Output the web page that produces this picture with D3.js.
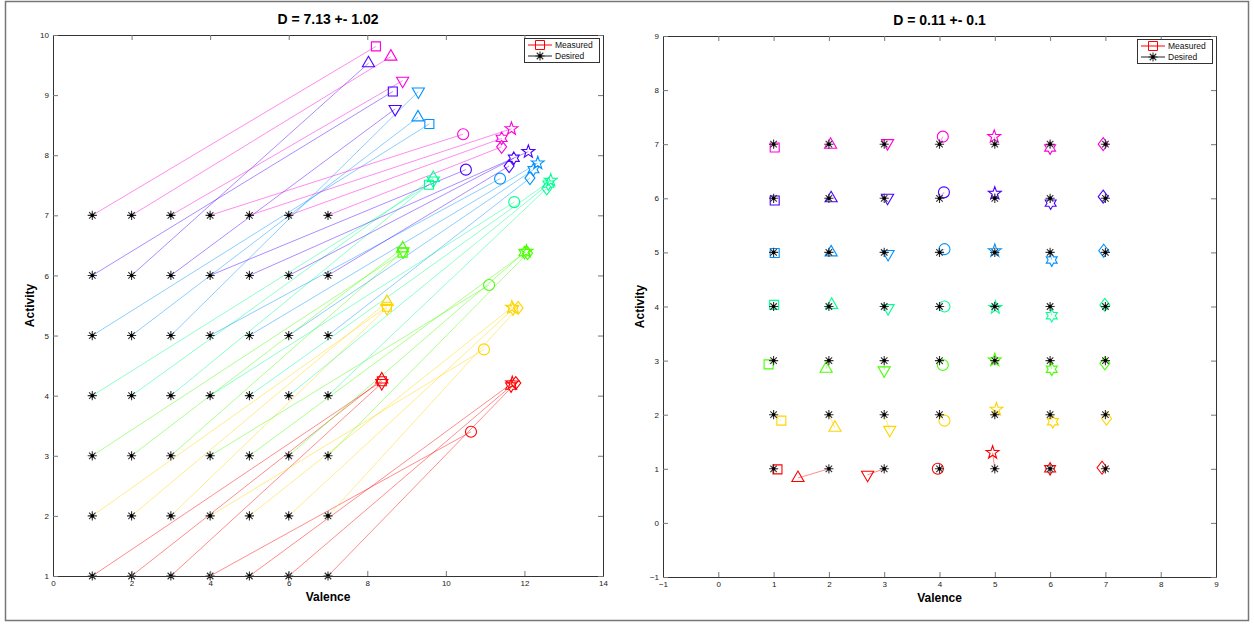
<!DOCTYPE html>
<html lang="en">
<head>
<meta charset="UTF-8">
<title>Valence / Activity</title>
<style>
  body { margin: 0; background: #fff; }
  svg text { font-family: "Liberation Sans", Arial, sans-serif; }
</style>
</head>
<body>
<svg id="fig" width="1254" height="624"></svg>
<script src="https://cdn.jsdelivr.net/npm/d3@7"></script>
<script>
(function () {
    // grid of desired points: rows = activity, columns = valence
    var gridLevels = [1, 2, 3, 4, 5, 6, 7];
    // one colour per activity row (hsv(7)), one marker per valence column
    var rowColors = ["#ff0000", "#ffd400", "#49ff00", "#00ff92", "#0092ff", "#4900ff", "#ff00db"];
    var colMarkers = ["square", "triUp", "triDown", "circle", "pentagram", "hexagram", "diamond"];

    // left panel, measured valence (rows activity 1..7, cols valence 1..7)
    var leftMeasV = [
        [8.37, 8.37, 8.37, 10.64, 11.69, 11.66, 11.78],
        [8.50, 8.50, 8.50, 10.97, 11.68, 11.71, 11.84],
        [8.90, 8.90, 8.91, 11.10, 12.05, 12.00, 12.08],
        [9.57, 9.68, 9.68, 11.74, 12.67, 12.61, 12.57],
        [9.58, 9.29, 9.30, 11.38, 12.34, 12.23, 12.14],
        [8.65, 8.03, 8.71, 10.51, 12.10, 11.73, 11.61],
        [8.22, 8.60, 8.90, 10.44, 11.67, 11.42, 11.42]
    ];
    var leftMeasA = [
        [4.24, 4.27, 4.21, 3.40, 4.21, 4.16, 4.21],
        [5.48, 5.56, 5.46, 4.77, 5.47, 5.44, 5.46],
        [6.38, 6.45, 6.40, 5.84, 6.40, 6.38, 6.37],
        [7.51, 7.62, 7.58, 7.22, 7.58, 7.52, 7.45],
        [8.52, 8.63, 9.06, 7.61, 7.87, 7.76, 7.62],
        [9.06, 9.53, 8.77, 7.76, 8.06, 7.95, 7.82],
        [9.81, 9.64, 9.24, 8.35, 8.44, 8.28, 8.14]
    ];

    // right panel, measured
    var rightMeasV = [
        [1.07, 1.44, 2.70, 3.97, 4.96, 6.00, 6.94],
        [1.14, 2.11, 3.10, 4.09, 5.03, 6.05, 7.02],
        [0.91, 1.95, 3.00, 4.06, 5.00, 6.03, 6.99],
        [1.01, 2.05, 3.07, 4.09, 5.01, 6.03, 6.99],
        [1.02, 2.04, 3.07, 4.09, 5.00, 6.03, 6.97],
        [1.02, 2.04, 3.06, 4.08, 5.00, 6.01, 6.96],
        [1.02, 2.03, 3.06, 4.06, 4.99, 6.00, 6.96]
    ];
    var rightMeasA = [
        [0.99, 0.83, 0.89, 1.00, 1.30, 1.00, 1.02],
        [1.89, 1.76, 1.72, 1.89, 2.10, 1.87, 1.93],
        [2.93, 2.85, 2.82, 2.92, 3.01, 2.84, 2.95],
        [4.03, 4.03, 3.97, 4.00, 3.98, 3.83, 4.03],
        [4.99, 5.00, 4.97, 5.06, 5.03, 4.86, 5.03],
        [5.96, 6.00, 6.01, 6.11, 6.09, 5.91, 6.03],
        [6.94, 6.99, 7.02, 7.14, 7.14, 6.93, 7.00]
    ];

    var leftTitle = "D = 7.13 +- 1.02";
    var rightTitle = "D = 0.11 +- 0.1";
    var leftXTicks = [0, 2, 4, 6, 8, 10, 12, 14];
    var leftYTicks = [1, 2, 3, 4, 5, 6, 7, 8, 9, 10];
    var rightXTicks = [-1, 0, 1, 2, 3, 4, 5, 6, 7, 8, 9];
    var rightYTicks = [-1, 0, 1, 2, 3, 4, 5, 6, 7, 8, 9];
    var legendLabels = ["Measured", "Desired"];

    var svg = d3.select("#fig");

    svg.append("rect")
        .attr("x", 5.5).attr("y", 1.5)
        .attr("width", 1243).attr("height", 619)
        .attr("fill", "none").attr("stroke", "#777").attr("stroke-width", 1.5);

    function markerPath(kind) {
        var p = d3.path(), i, a, r;
        if (kind === "square") {
            p.rect(-4.5, -4.5, 9, 9);
        } else if (kind === "triUp" || kind === "triDown") {
            var s = kind === "triUp" ? 1 : -1;
            r = 7;
            p.moveTo(0, -r * s);
            p.lineTo(r * 0.87, r * 0.5 * s);
            p.lineTo(-r * 0.87, r * 0.5 * s);
            p.closePath();
        } else if (kind === "circle") {
            p.arc(0, 0, 5.5, 0, 2 * Math.PI);
        } else if (kind === "pentagram" || kind === "hexagram") {
            var n = kind === "pentagram" ? 5 : 6;
            var ro = kind === "pentagram" ? 6.8 : 6.3;
            var ri = kind === "pentagram" ? ro * 0.4 : ro * 0.577;
            for (i = 0; i < n * 2; i++) {
                a = -Math.PI / 2 + i * Math.PI / n;
                r = i % 2 === 0 ? ro : ri;
                if (i === 0) p.moveTo(r * Math.cos(a), r * Math.sin(a));
                else p.lineTo(r * Math.cos(a), r * Math.sin(a));
            }
            p.closePath();
        } else if (kind === "diamond") {
            p.moveTo(0, -6.5); p.lineTo(5, 0); p.lineTo(0, 6.5); p.lineTo(-5, 0); p.closePath();
        } else if (kind === "asterisk") {
            r = 4.6;
            for (i = 0; i < 4; i++) {
                a = i * Math.PI / 4;
                p.moveTo(-r * Math.cos(a), -r * Math.sin(a));
                p.lineTo(r * Math.cos(a), r * Math.sin(a));
            }
        }
        return p.toString();
    }

    function drawAsterisk(g, x, y) {
        g.append("path").attr("d", markerPath("asterisk"))
            .attr("transform", "translate(" + x + "," + y + ")")
            .attr("stroke", "#333").attr("stroke-width", 1.1).attr("fill", "none");
        g.append("circle").attr("cx", x).attr("cy", y).attr("r", 1.8).attr("fill", "#000");
    }

    function panel(cfg) {
        var x = d3.scaleLinear().domain(cfg.xDomain).range([cfg.left, cfg.right]);
        var y = d3.scaleLinear().domain(cfg.yDomain).range([cfg.bottom, cfg.top]);
        var g = svg.append("g");

        var points = [];
        gridLevels.forEach(function (a, ri) {
            gridLevels.forEach(function (v, ci) {
                points.push({
                    dv: v, da: a,
                    mv: cfg.measV[ri][ci], ma: cfg.measA[ri][ci],
                    color: rowColors[ri], marker: colMarkers[ci]
                });
            });
        });

        // connecting lines
        g.selectAll("line.link").data(points).enter().append("line")
            .attr("class", "link")
            .attr("x1", function (d) { return x(d.dv); })
            .attr("y1", function (d) { return y(d.da); })
            .attr("x2", function (d) { return x(d.mv); })
            .attr("y2", function (d) { return y(d.ma); })
            .attr("stroke", function (d) { return d.color; })
            .attr("stroke-opacity", 0.45)
            .attr("stroke-width", 1);

        // measured markers
        g.selectAll("path.meas").data(points).enter().append("path")
            .attr("class", "meas")
            .attr("d", function (d) { return markerPath(d.marker); })
            .attr("transform", function (d) { return "translate(" + x(d.mv) + "," + y(d.ma) + ")"; })
            .attr("fill", "none")
            .attr("stroke", function (d) { return d.color; })
            .attr("stroke-width", 1.1);

        // desired markers
        points.forEach(function (d) { drawAsterisk(g, x(d.dv), y(d.da)); });

        // axes (ticks pointing inward, box all round)
        function style(sel) {
            sel.select(".domain").attr("stroke", "#333");
            sel.selectAll(".tick line").attr("stroke", "#777");
            sel.selectAll(".tick text").attr("fill", "#222")
                .style("font-size", "8px");
        }
        g.append("g").attr("transform", "translate(0," + cfg.bottom + ")")
            .call(d3.axisBottom(x).tickValues(cfg.xTicks).tickSizeInner(-5).tickSizeOuter(0).tickPadding(4))
            .call(style);
        g.append("g").attr("transform", "translate(0," + cfg.top + ")")
            .call(d3.axisTop(x).tickValues(cfg.xTicks).tickSizeInner(-5).tickSizeOuter(0).tickFormat(""))
            .call(style);
        g.append("g").attr("transform", "translate(" + cfg.left + ",0)")
            .call(d3.axisLeft(y).tickValues(cfg.yTicks).tickSizeInner(-5).tickSizeOuter(0).tickPadding(4))
            .call(style);
        g.append("g").attr("transform", "translate(" + cfg.right + ",0)")
            .call(d3.axisRight(y).tickValues(cfg.yTicks).tickSizeInner(-5).tickSizeOuter(0).tickFormat(""))
            .call(style);
        g.selectAll(".tick text").attr("font-family", "Liberation Sans, Arial, sans-serif");

        var cx = (cfg.left + cfg.right) / 2;
        g.append("text").attr("x", cx).attr("y", cfg.top - 11)
            .attr("text-anchor", "middle").attr("font-weight", "bold")
            .attr("font-size", 14).attr("fill", "#000").text(cfg.title);
        g.append("text").attr("x", cx).attr("y", cfg.bottom + 25)
            .attr("text-anchor", "middle").attr("font-weight", "bold")
            .attr("font-size", 12).attr("fill", "#000").text("Valence");
        g.append("text")
            .attr("transform", "translate(" + (cfg.left - 19) + "," + ((cfg.top + cfg.bottom) / 2) + ") rotate(-90)")
            .attr("text-anchor", "middle").attr("font-weight", "bold")
            .attr("font-size", 12).attr("fill", "#000").text("Activity");

        // legend
        var lg = g.append("g").attr("transform", "translate(" + (cfg.right - 79) + "," + (cfg.top + 3) + ")");
        lg.append("rect").attr("x", 0.5).attr("y", 0.5).attr("width", 75).attr("height", 24)
            .attr("fill", "#fff").attr("stroke", "#333").attr("stroke-width", 1);
        legendLabels.forEach(function (lab, i) {
            var ly = 7 + i * 11;
            lg.append("line").attr("x1", 4).attr("x2", 28).attr("y1", ly).attr("y2", ly)
                .attr("stroke", i === 0 ? "#ff0000" : "#222").attr("stroke-width", 1);
            if (i === 0) {
                lg.append("path").attr("d", markerPath("square"))
                    .attr("transform", "translate(16," + ly + ")")
                    .attr("fill", "none").attr("stroke", "#ff0000");
            } else {
                drawAsterisk(lg, 16, ly);
            }
            lg.append("text").attr("x", 31).attr("y", ly + 3)
                .attr("font-size", 8.5).attr("fill", "#111").text(lab);
        });
    }

    panel({
        left: 53, right: 603, top: 35, bottom: 576,
        xDomain: [0, 14], yDomain: [1, 10],
        xTicks: leftXTicks, yTicks: leftYTicks,
        measV: leftMeasV, measA: leftMeasA, title: leftTitle
    });
    panel({
        left: 663, right: 1216, top: 36, bottom: 577,
        xDomain: [-1, 9], yDomain: [-1, 9],
        xTicks: rightXTicks, yTicks: rightYTicks,
        measV: rightMeasV, measA: rightMeasA, title: rightTitle
    });
})();
</script>
</body>
</html>
